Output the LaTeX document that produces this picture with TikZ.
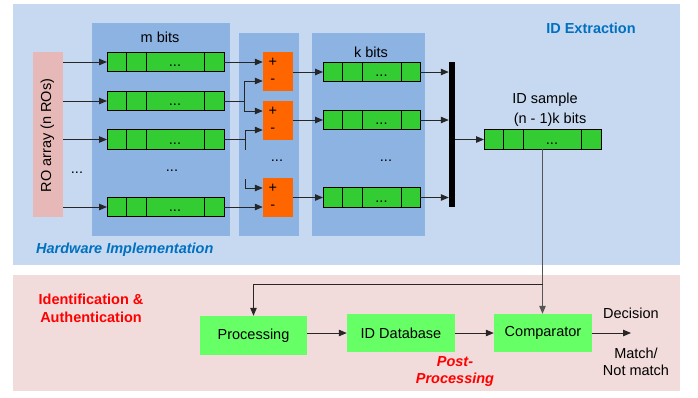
\documentclass[tikz,border=0pt]{standalone}
\usepackage{fontspec}
\setmainfont{Liberation Sans}
\usetikzlibrary{arrows.meta,calc}
\definecolor{panelBlue}{HTML}{C6D9F1}
\definecolor{innerBlue}{HTML}{8DB3E2}
\definecolor{roPink}{HTML}{E6B9B8}
\definecolor{panelPink}{HTML}{F2DCDB}
\definecolor{regGreen}{HTML}{33CC33}
\definecolor{boxGreen}{HTML}{66FF66}
\definecolor{subOrange}{HTML}{FF6600}
\definecolor{titleBlue}{HTML}{0070C0}
\definecolor{lineGray}{HTML}{555555}
\newcommand\mregister[2]{%
  \node[reg, minimum width=117pt] (#1) at (#2) {};
  \foreach \dx in {19,39,97} \draw[line width=0.9pt] ([xshift=\dx pt]#1.north west) -- ([xshift=\dx pt]#1.south west);
  \node[dots] at ([xshift=68pt,yshift=-4.5pt]#1.west) {...};}
\newcommand\kregister[2]{%
  \node[reg, minimum width=97pt] (#1) at (#2) {};
  \foreach \dx in {19,39,78} \draw[line width=0.9pt] ([xshift=\dx pt]#1.north west) -- ([xshift=\dx pt]#1.south west);
  \node[dots] at ([xshift=58.5pt,yshift=-4.5pt]#1.west) {...};}
\begin{document}
\begin{tikzpicture}[x=1pt,y=-1pt,
  font=\fontsize{14.5}{17.5}\selectfont,
  reg/.style={draw=black, line width=0.9pt, fill=regGreen, minimum height=19.5pt, inner sep=0pt, outer sep=0pt},
  dots/.style={anchor=base, inner sep=0pt},
  subbox/.style={fill=subOrange, minimum width=30pt, minimum height=39pt, inner sep=0pt},
  gbox/.style={fill=boxGreen, minimum height=38pt, inner sep=0pt},
  lin/.style={line width=1pt, draw=black!85},
  arr/.style={lin, -{Triangle[length=8pt,width=6.5pt]}},
  sign/.style={inner sep=0pt}]
\useasboundingbox (0,0) rectangle (698,397);
% panels
\fill[panelBlue] (13,4) rectangle (680,265);
\fill[innerBlue] (92,23) rectangle (230,236);
\fill[innerBlue] (239,33) rectangle (299,236);
\fill[innerBlue] (312,33) rectangle (425,236);
\fill[panelPink] (13,275) rectangle (680,391);
% titles
\node[font=\fontsize{14.5}{17.5}\selectfont\bfseries, text=titleBlue] (tExt) at (591,28) {ID Extraction};
\node[font=\fontsize{14.5}{17.5}\selectfont\bfseries\itshape, text=titleBlue, anchor=west, inner sep=0pt] (tHw) at (36,250) {Hardware Implementation};
\node[font=\fontsize{14.5}{18}\selectfont\bfseries, text=red, align=center] (tIA) at (91,308) {Identification \&\\Authentication};
\node[font=\fontsize{14.5}{17}\selectfont\bfseries\itshape, text=red, align=center] (tPP) at (455,372) {Post-\\Processing};
% RO array
\node[fill=roPink, minimum width=30pt, minimum height=165pt, inner sep=0pt] (ro) at (48,134.5) {};
\node[rotate=90, inner sep=0pt] (roT) at (47.5,135.5) {RO array (n ROs)};
\node[dots] (roD) at (77,173) {...};
% m bit registers
\node (mT) at (160,37) {m bits};
\mregister{r1}{165.5,62}
\mregister{r2}{165.5,101}
\mregister{r3}{165.5,139.5}
\mregister{r4}{165.5,207}
\node[dots] (mD) at (172,171) {...};
% subtractors
\node[subbox] (s1) at (278,71.5) {};
\node[subbox] (s2) at (278,120.5) {};
\node[subbox] (s3) at (278,197.5) {};
\foreach \s in {s1,s2,s3} {
  \node[sign] at ([xshift=10pt,yshift=9.5pt]\s.west) {+};
  \node[sign] at ([xshift=10pt,yshift=-9.5pt]\s.west) {-};
}
\node[dots] (sD) at (277,161) {...};
% k bit registers
\node (kT) at (371,52) {k bits};
\kregister{k1}{371.5,72}
\kregister{k2}{371.5,120}
\kregister{k3}{371.5,197.5}
\node[dots] (kD) at (386,161) {...};
% bar
\node[fill=black, minimum width=6pt, minimum height=145pt, inner sep=0pt] (bar) at (452,134.5) {};
% ID sample
\node (idT1) at (545,100) {ID sample};
\node (idT2) at (550,120) {(n - 1)k bits};
\mregister{ids}{542.5,139.5}
% bottom boxes
\node[gbox, minimum width=107pt, minimum height=39pt] (proc) at (253.5,335.5) {Processing};
\node[gbox, minimum width=108pt] (db) at (401,333) {ID Database};
\node[gbox, minimum width=98pt] (comp) at (543,333) {Comparator};
\node (decT) at (631,313) {Decision};
\node[align=center] (matchT) at (636,362) {Match/\\Not match};
% connectors: RO to registers
\foreach \r in {r1,r2,r3,r4} \draw[arr] (\r.west -| ro.east) -- (\r.west);
% registers to subtractors
\draw[arr] (r1.east) -- ([yshift=9.5pt]s1.west);
\coordinate (j2) at ($(r2.east)+(20,0)$);
\draw[lin] (r2.east) -- (j2);
\draw[arr] (j2) |- ([yshift=-9.5pt]s1.west);
\draw[arr] (j2) |- ([yshift=9.5pt]s2.west);
\coordinate (j3) at ($(r3.east)+(21,0)$);
\draw[lin] (r3.east) -- (j3);
\draw[arr] (j3) |- ([yshift=-9.5pt]s2.west);
\coordinate (j3e) at ($(j3)+(0,10)$);
\draw[lin] (j3) -- (j3e);
\coordinate (j4) at (245,179);
\draw[arr] (j4) |- ([yshift=9.5pt]s3.west);
\draw[arr] (r4.east) -- ([yshift=-9.5pt]s3.west);
% subtractors to k registers
\draw[arr] (s1.east |- k1.west) -- (k1.west);
\draw[arr] (s2.east |- k2.west) -- (k2.west);
\draw[arr] (s3.east |- k3.west) -- (k3.west);
% k registers to bar
\foreach \k in {k1,k2,k3} \draw[arr] (\k.east) -- (\k.east -| bar.west);
\draw[arr] (bar.east |- ids.west) -- (ids.west);
% ID sample to post-processing
\draw[arr, draw=lineGray] (ids.south) -- (ids.south |- comp.north);
\coordinate (fb) at (ids.south |- 0,284);
\draw[arr] (fb) -| (proc.north);
\draw[arr] (proc.east |- db.west) -- (db.west);
\draw[arr] (db.east) -- (comp.west);
\coordinate (dec) at (631,333);
\draw[arr] (comp.east) -- (dec);
\end{tikzpicture}
\end{document}
